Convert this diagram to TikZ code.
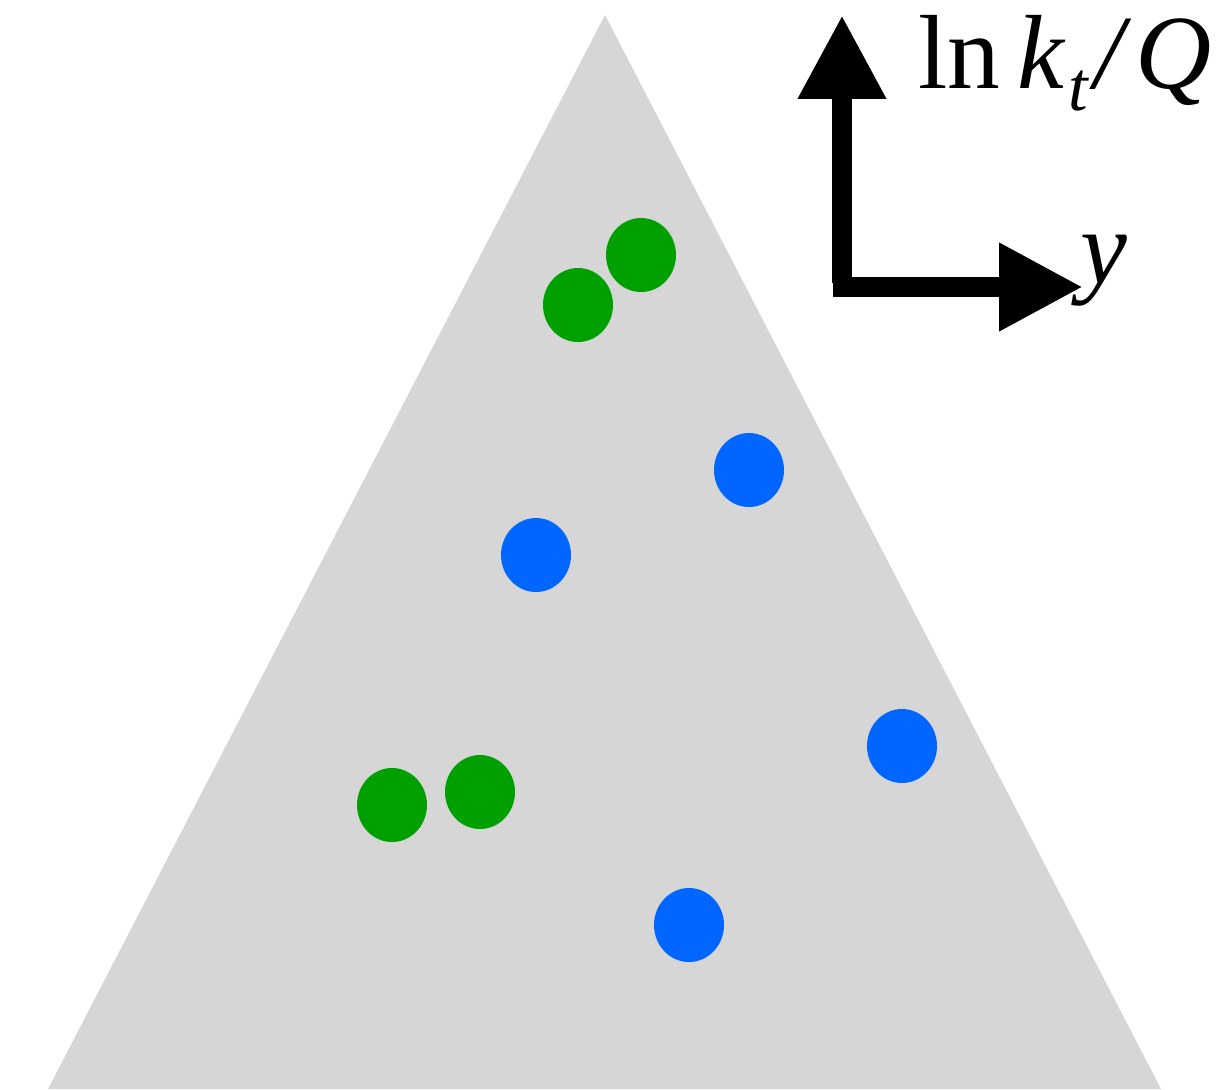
\documentclass[tikz,border=0pt]{standalone}
\usepackage{fontspec}
\setmainfont{Liberation Serif}
\usepackage{xcolor}
\usetikzlibrary{arrows.meta,shapes.geometric}

\begin{document}
\begin{tikzpicture}[x=0.02cm,y=-0.02cm,every node/.style={font=\fontsize{60}{60}\selectfont}]
		% Define colors
		\definecolor{conegray}{RGB}{214, 214, 214}
		\definecolor{emitgreen}{RGB}{0, 160, 0}
		\definecolor{emitblue}{RGB}{0, 102, 255}
		\tikzset{
			emission/.style={ellipse, inner sep=0pt, minimum width=1.4cm, minimum height=1.48cm},
			axisarrow/.style={line width=0.4cm, -{Triangle[length=1.68cm, width=1.66cm]}}
		}
		
		% Frame
		\useasboundingbox (0,0) rectangle (1229,1089);
		
		% Lund plane triangle
		\fill[conegray] (605,15) -- (1161,1089) -- (48,1089) -- cycle;
		
		% Emissions (green)
		\node[emission, fill=emitgreen] (g1) at (641,255) {};
		\node[emission, fill=emitgreen] (g2) at (578,305) {};
		\node[emission, fill=emitgreen] (g3) at (392,805) {};
		\node[emission, fill=emitgreen] (g4) at (480,792) {};
		
		% Emissions (blue)
		\node[emission, fill=emitblue] (b1) at (749,470) {};
		\node[emission, fill=emitblue] (b2) at (536,555) {};
		\node[emission, fill=emitblue] (b3) at (902,746) {};
		\node[emission, fill=emitblue] (b4) at (689,925) {};
		
		% Axes
		\coordinate (vbase) at (842,283);
		\coordinate (vtip) at (842,15);
		\coordinate (hbase) at (833,287);
		\coordinate (htip) at (1083,287);
		\draw[axisarrow] (vbase) -- (vtip);
		\draw[axisarrow] (hbase) -- (htip);
		\node[anchor=base west, inner sep=0pt] (lnkt) at (918,88) {ln\hspace{10pt}\textit{k}\hspace{1pt}\raisebox{-13pt}{\fontsize{40}{40}\selectfont\textit{t}}\hspace{3pt}\textit{/}\hspace{2pt}\textit{Q}};
		\node[anchor=base west, inner sep=0pt] (ylab) at (1080,283) {\textit{y}};
		
	\end{tikzpicture}
\end{document}
